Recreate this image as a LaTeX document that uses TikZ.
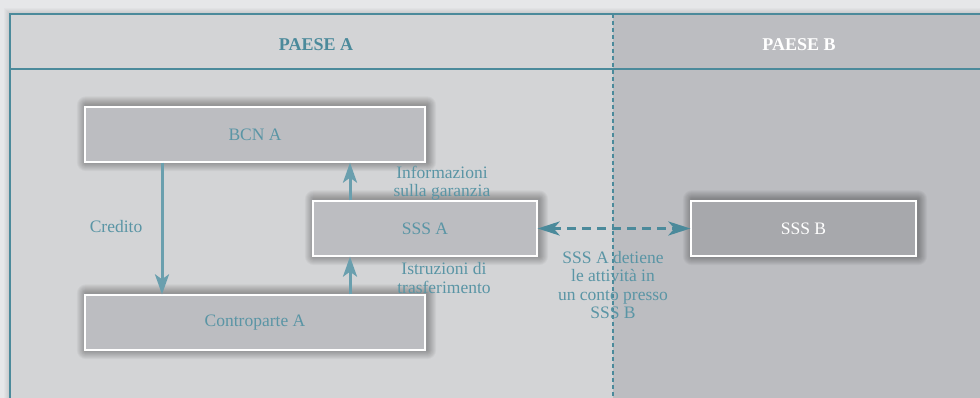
\documentclass[tikz,border=0pt]{standalone}
\usepackage{fontspec}
\setmainfont{Liberation Serif}
\usetikzlibrary{arrows.meta}
\definecolor{outerbg}{HTML}{E6E7E9}
\definecolor{bgA}{HTML}{D3D4D6}
\definecolor{bgB}{HTML}{BCBDC1}
\definecolor{boxA}{HTML}{BCBDC1}
\definecolor{boxB}{HTML}{A7A8AC}
\definecolor{teal}{HTML}{4B8A9B}
\definecolor{tealtxt}{HTML}{5A95A5}
\definecolor{tealarr}{HTML}{6A9FAE}
\pgfdeclarelayer{bglayer}
\pgfdeclarelayer{shadowlayer}
\pgfsetlayers{bglayer,shadowlayer,main}
\tikzset{
  cbox/.style={draw=white, line width=1.3pt, fill=boxA, minimum width=340pt, minimum height=55pt,
    text=tealtxt, font=\fontsize{17.5}{18.5}\selectfont, inner sep=0pt},
  lbl/.style={text=tealtxt, font=\fontsize{17.5}{18.5}\selectfont, align=center, inner sep=0pt},
  hdr/.style={font=\bfseries\fontsize{18}{20}\selectfont, inner sep=0pt},
  solidarr/.style={draw=tealarr, line width=3pt, -{Stealth[length=20pt,width=14pt,inset=5pt]}},
  shadowstep/.style={fill=black, opacity=0.035},
}
\begin{document}
\begin{tikzpicture}[x=1pt,y=-1pt]
\useasboundingbox (0,0) rectangle (980,398);
\begin{pgfonlayer}{bglayer}
\fill[outerbg] (0,0) rectangle (980,398);
\fill[bgA] (10,14) rectangle (613,398);
\fill[bgB] (613,14) rectangle (980,398);
\foreach \i in {1,...,6}{
  \fill[black, opacity=0.02] (10-\i,14-\i) rectangle (982,400);
}
\fill[bgA] (10,14) rectangle (613,398);
\fill[bgB] (613,14) rectangle (980,398);
\end{pgfonlayer}
\draw[teal, line width=1.5pt] (10,400) -- (10,14) -- (982,14);
\draw[teal, line width=1.5pt] (10,69) -- (982,69);
\draw[teal, line width=1.5pt, dash pattern=on 4pt off 3pt] (613,14) -- (613,400);
\node[hdr, text=teal] (pa) at (316,45) {PAESE A};
\node[hdr, text=white] (pb) at (799,45) {PAESE B};

\node[cbox] (bcn) at (255,134.5) {BCN A};
\node[cbox] (cpa) at (255,322.5) {Controparte A};
\node[cbox, minimum width=224pt] (sssa) at (425,228.5) {SSS A};
\node[cbox, minimum width=225pt, fill=boxB, text=white] (sssb) at (803.5,228.5) {SSS B};

\begin{pgfonlayer}{shadowlayer}
\foreach \n in {bcn,cpa,sssa,sssb}{
  \foreach \i in {1,...,9}{
    \fill[shadowstep, rounded corners=\i pt] ([shift={(-\i+1.5,-\i-1)}]\n.north west) rectangle ([shift={(\i+1.5,\i-0.5)}]\n.south east);
  }
}
\end{pgfonlayer}

\draw[solidarr] (bcn.south -| 162,0) -- (cpa.north -| 162,0);
\draw[solidarr] (sssa.north -| 350,0) -- (bcn.south -| 350,0);
\draw[solidarr] (cpa.north -| 350,0) -- (sssa.south -| 350,0);
\draw[draw=teal, line width=3pt, dash pattern=on 9pt off 6pt, {Stealth[length=22pt,width=14pt,inset=6pt]}-{Stealth[length=22pt,width=14pt,inset=6pt]}] (sssa.east) -- (sssb.west);

\node[lbl] (cred) at (116,227) {Credito};
\node[lbl] (info) at (442,183) {Informazioni\\sulla garanzia};
\node[lbl] (istr) at (444,278) {Istruzioni di\\trasferimento};
\node[lbl] (det) at (613,285) {SSS A detiene\\le attività in\\un conto presso\\SSS B};
\end{tikzpicture}
\end{document}
